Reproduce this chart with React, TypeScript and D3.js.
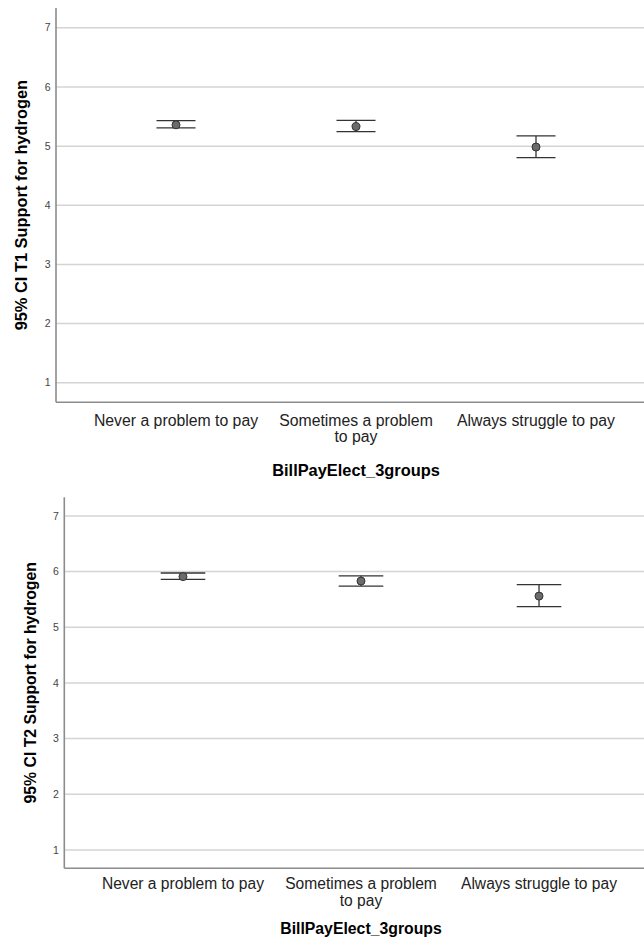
import React from "react";
import * as d3 from "d3";

// categories of BillPayElect_3groups
const categories = ["Never a problem to pay", "Sometimes a problem to pay", "Always struggle to pay"];
const categoryLines = [["Never a problem to pay"], ["Sometimes a problem", "to pay"], ["Always struggle to pay"]];
const yTicks = [1, 2, 3, 4, 5, 6, 7];

// T1 support for hydrogen: mean and 95% CI
const t1Mean = [5.36, 5.33, 4.985];
const t1Lower = [5.31, 5.245, 4.805];
const t1Upper = [5.43, 5.435, 5.175];

// T2 support for hydrogen: mean and 95% CI
const t2Mean = [5.91, 5.83, 5.56];
const t2Lower = [5.86, 5.74, 5.37];
const t2Upper = [5.975, 5.925, 5.765];

const FONT = "'Liberation Sans', Arial, sans-serif";

type PanelProps = {
  mean: number[];
  lower: number[];
  upper: number[];
  yTitle: string;
  left: number;
  right: number;
  top: number;
  bottom: number;
  capHalf: number;
  font: number;
  titleFont: number;
  yTitleX: number;
  labelY: number;
  lineGap: number;
  xTitleY: number;
};

function Panel(p: PanelProps) {
  const x = d3.scalePoint<string>().domain(categories).range([p.left, p.right]).padding(2 / 3);
  const y = d3.scaleLinear().domain([0.67, 7.335]).range([p.bottom, p.top]);
  const plotMidX = (p.left + p.right) / 2;
  const plotMidY = (p.top + p.bottom) / 2;

  return (
    <g>
      {/* gridlines */}
      {yTicks.map((t) => (
        <line key={"g" + t} x1={p.left} x2={644} y1={y(t)} y2={y(t)} stroke="#d4d4d4" strokeWidth={1.5} />
      ))}
      {/* tick labels */}
      {yTicks.map((t) => (
        <text
          key={"t" + t}
          x={p.left - 5.5}
          y={y(t)}
          dy="0.35em"
          textAnchor="end"
          fontSize={10.5}
          fill="#444"
          fontFamily={FONT}
        >
          {t}
        </text>
      ))}
      {/* axes */}
      <line x1={p.left} x2={p.left} y1={p.top} y2={p.bottom} stroke="#8c8c8c" strokeWidth={1.6} />
      <line x1={p.left} x2={644} y1={p.bottom} y2={p.bottom} stroke="#8c8c8c" strokeWidth={1.6} />

      {/* error bars */}
      {categories.map((c, i) => {
        const cx = x(c) as number;
        return (
          <g key={c}>
            <line x1={cx} x2={cx} y1={y(p.upper[i])} y2={y(p.lower[i])} stroke="#333" strokeWidth={1.3} />
            <line x1={cx - p.capHalf} x2={cx + p.capHalf} y1={y(p.upper[i])} y2={y(p.upper[i])} stroke="#333" strokeWidth={1.3} />
            <line x1={cx - p.capHalf} x2={cx + p.capHalf} y1={y(p.lower[i])} y2={y(p.lower[i])} stroke="#333" strokeWidth={1.3} />
            <circle cx={cx} cy={y(p.mean[i])} r={4} fill="#6b6b6b" stroke="#333" strokeWidth={1} />
          </g>
        );
      })}

      {/* category labels */}
      {categories.map((c, i) => (
        <text key={"c" + c} x={x(c) as number} y={p.labelY} textAnchor="middle" fontSize={p.font} fill="#222" fontFamily={FONT}>
          {categoryLines[i].map((ln, j) => (
            <tspan key={j} x={x(c) as number} dy={j === 0 ? "0.35em" : p.lineGap}>
              {ln}
            </tspan>
          ))}
        </text>
      ))}

      {/* axis titles */}
      <text
        x={plotMidX}
        y={p.xTitleY}
        dy="0.35em"
        textAnchor="middle"
        fontSize={p.titleFont}
        fontWeight="bold"
        fill="#000"
        fontFamily={FONT}
      >
        BillPayElect_3groups
      </text>
      <text
        transform={`translate(${p.yTitleX},${plotMidY}) rotate(-90)`}
        dy="0.35em"
        textAnchor="middle"
        fontSize={p.titleFont}
        fontWeight="bold"
        fill="#000"
        fontFamily={FONT}
      >
        {p.yTitle}
      </text>
    </g>
  );
}

export default function App() {
  return (
    <svg width={644} height={940} style={{ position: "absolute", left: 0, top: 0, background: "#fff" }}>
      <rect width={644} height={940} fill="#fff" />
      <Panel
        mean={t1Mean}
        lower={t1Lower}
        upper={t1Upper}
        yTitle="95% CI T1 Support for hydrogen"
        left={56}
        right={656}
        top={8}
        bottom={402.3}
        capHalf={19.5}
        font={15.8}
        titleFont={16.4}
        yTitleX={21.7}
        labelY={420}
        lineGap={16.7}
        xTitleY={470}
      />
      <Panel
        mean={t2Mean}
        lower={t2Lower}
        upper={t2Upper}
        yTitle="95% CI T2 Support for hydrogen"
        left={64.3}
        right={657.7}
        top={497.3}
        bottom={868.3}
        capHalf={22.3}
        font={15.6}
        titleFont={15.8}
        yTitleX={30}
        labelY={884}
        lineGap={16.7}
        xTitleY={928.3}
      />
    </svg>
  );
}
